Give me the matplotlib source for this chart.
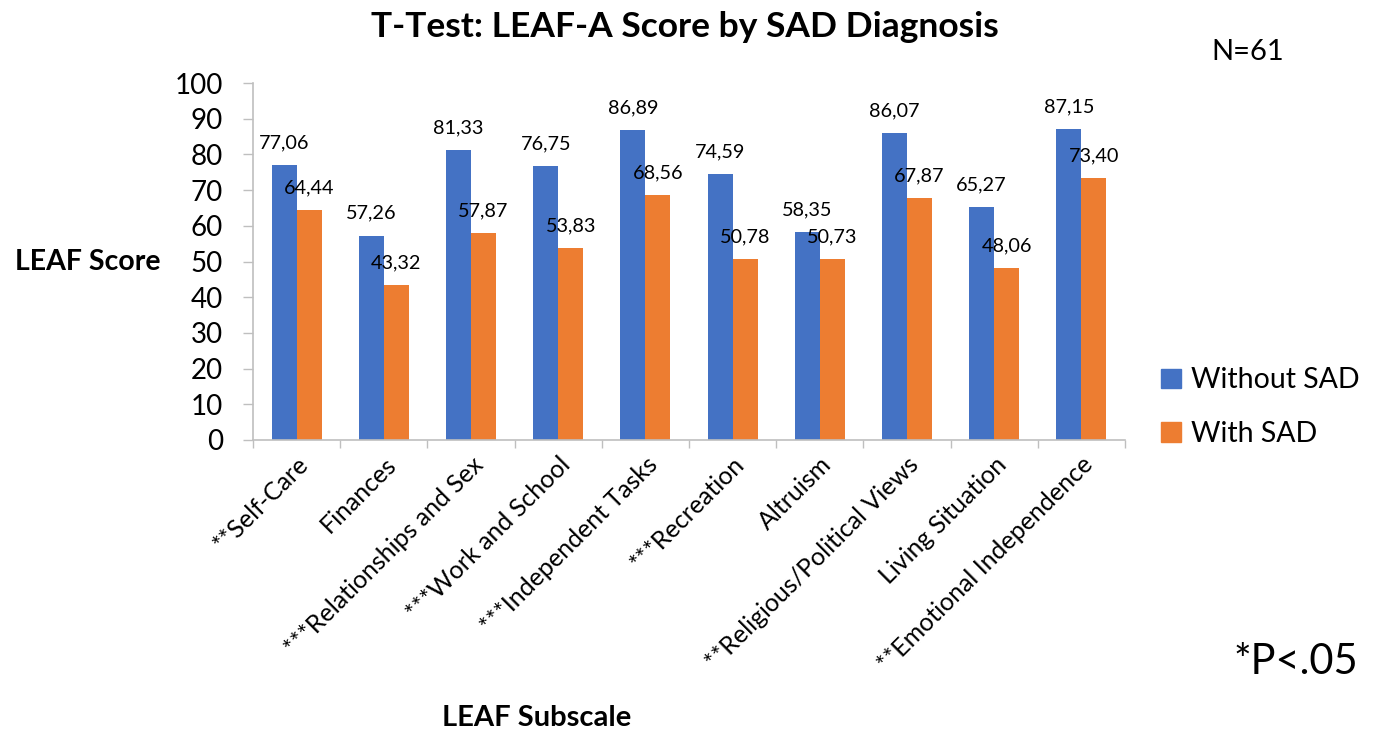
import matplotlib
matplotlib.use("Agg")
import matplotlib.pyplot as plt
import numpy as np
from matplotlib.patches import Patch

categories = ["**Self-Care", "Finances", "***Relationships and Sex", "***Work and School",
              "***Independent Tasks", "***Recreation", "Altruism", "**Religious/Political Views",
              "Living Situation", "**Emotional Independence"]
without_sad = [77.06, 57.26, 81.33, 76.75, 86.89, 74.59, 58.35, 86.07, 65.27, 87.15]
with_sad = [64.44, 43.32, 57.87, 53.83, 68.56, 50.78, 50.73, 67.87, 48.06, 73.40]
series_names = ["Without SAD", "With SAD"]
yticks = [0, 10, 20, 30, 40, 50, 60, 70, 80, 90, 100]

plt.rcParams['font.family'] = ['Lato', 'DejaVu Sans']

fig = plt.figure(figsize=(13.8, 7.33), dpi=100)
ax = fig.add_axes([253/1380, (733-440)/733, 872/1380, (440-83)/733])

x = np.arange(len(categories))
bw = 0.287
c1, c2 = "#4472C4", "#ED7D31"
b1 = ax.bar(x - bw/2, without_sad, bw, color=c1)
b2 = ax.bar(x + bw/2, with_sad, bw, color=c2)

for bars, vals in ((b1, without_sad), (b2, with_sad)):
    for r, v in zip(bars, vals):
        ax.annotate(f"{v:.2f}".replace(".", ","), (r.get_x() + r.get_width()/2, v),
                    xytext=(0, 16), textcoords="offset points", ha="center", va="center",
                    fontsize=14.3, color="#000000")

ax.set_xlim(-0.5, len(categories) - 0.5)
ax.set_ylim(0, 100)
ax.set_yticks(yticks)
ax.set_yticklabels([str(t) for t in yticks], fontsize=20)
ax.tick_params(axis='y', length=7.5, width=1, color="#BFBFBF", pad=14)

ax.set_xticks(x)
ax.set_xticklabels(categories, rotation=45, ha="right", rotation_mode="anchor", fontsize=18)
ax.tick_params(axis='x', length=0, pad=9)
ax.set_xticks(np.arange(-0.5, len(categories), 1), minor=True)
ax.tick_params(axis='x', which='minor', length=6, width=1, color="#BFBFBF")

for s in ["top", "right"]:
    ax.spines[s].set_visible(False)
for s in ["left", "bottom"]:
    ax.spines[s].set_color("#BFBFBF")
    ax.spines[s].set_linewidth(1.2)

fig.text(685/1380, 1 - 27/733, "T-Test: LEAF-A Score by SAD Diagnosis", ha="center", va="center",
         fontsize=25.5, fontweight="bold")
fig.text(1248/1380, 1 - 52/733, "N=61", ha="center", va="center", fontsize=21)
fig.text(88/1380, 1 - 262/733, "LEAF Score", ha="center", va="center", fontsize=20.5, fontweight="bold")
fig.text(537/1380, 1 - 718/733, "LEAF Subscale", ha="center", va="center", fontsize=21, fontweight="bold")
fig.text(1296/1380, 1 - 662/733, "*P<.05", ha="center", va="center", fontsize=30)

handles = [Patch(color=c1, label=series_names[0]), Patch(color=c2, label=series_names[1])]
fig.legend(handles=handles, loc="center left", bbox_to_anchor=(1161/1380, 1 - 407/733),
           frameon=False, fontsize=20.5, handlelength=0.7, handleheight=0.7, handletextpad=0.35,
           labelspacing=0.95, borderaxespad=0, borderpad=0)

fig.savefig("out.png", dpi=100)
